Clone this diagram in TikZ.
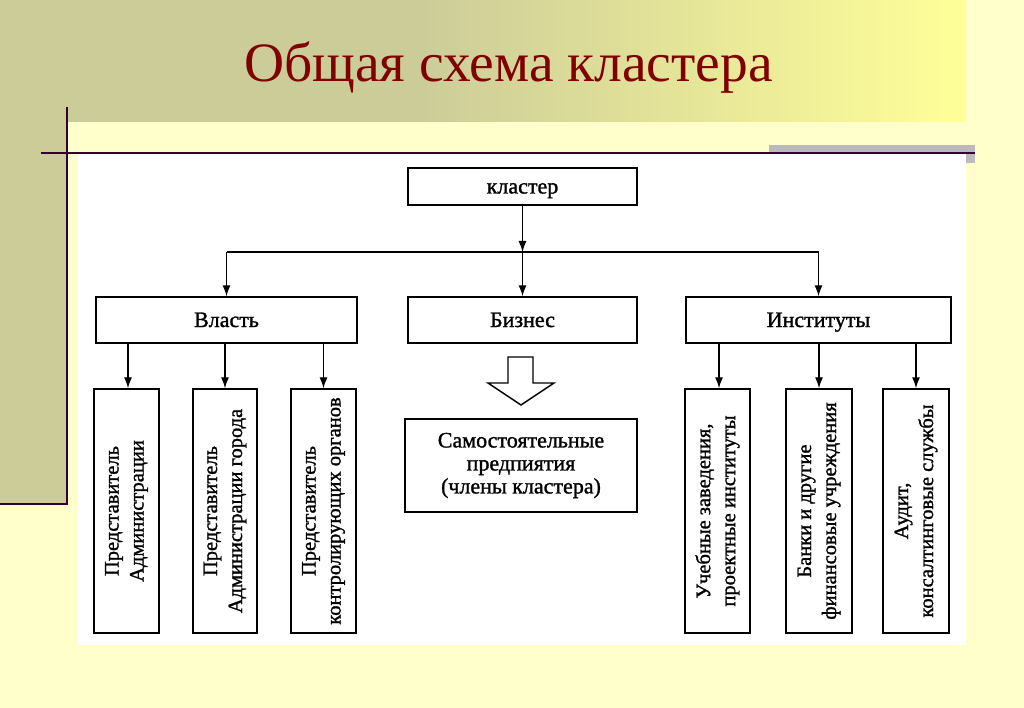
\documentclass[tikz,border=0pt]{standalone}
\usepackage{fontspec}
\setmainfont{Liberation Serif}
\newfontfamily\scanfont[FakeBold=1.3]{Liberation Serif}
\usetikzlibrary{arrows.meta}
\definecolor{bgyellow}{HTML}{FFFFCC}
\definecolor{khaki}{HTML}{CCCC99}
\definecolor{bandyellow}{HTML}{FFFF99}
\definecolor{linepurple}{HTML}{330033}
\definecolor{titlered}{HTML}{800000}
\definecolor{barGray}{HTML}{BBBBBB}
\tikzset{
  box/.style={draw=black, line width=1.4pt, fill=white, inner sep=2pt, align=center,
    font=\scanfont\fontsize{22}{23}\selectfont},
  onebox/.style={box, text height=15pt, text depth=1pt},
  vbox/.style={box, minimum width=244pt, rotate=90, font=\scanfont\fontsize{20.5}{25}\selectfont},
  arr/.style={line width=1.3pt, -{Latex[length=11pt,width=8pt]}},
  conn/.style={line width=1.3pt}
}
\begin{document}
\begin{tikzpicture}[x=1pt,y=-1pt]
\useasboundingbox (0,0) rectangle (1024,708);
% background
\fill[bgyellow] (0,0) rectangle (1024,708);
\fill[khaki] (0,0) rectangle (420,122);
\shade[left color=khaki, right color=bandyellow] (420,0) rectangle (966,122);
\fill[khaki] (0,122) rectangle (66,504);
% white diagram area
\fill[white] (78,154) rectangle (966,645);
% lines
\fill[barGray] (769,145) rectangle (975,152);
\fill[barGray] (966,152) rectangle (975,163);
\draw[linepurple, line width=2pt] (41,153) -- (975,153);
\draw[linepurple, line width=2pt] (67,107) -- (67,505);
\draw[linepurple, line width=2.5pt] (0,504) -- (67,504);
% title
\node[anchor=base, text=titlered, font=\fontsize{55.5}{60}\selectfont] (title) at (508.5,82) {Общая схема кластера};
% boxes
\node[onebox, minimum width=229pt, minimum height=37pt] (klaster) at (522.5,186.5) {кластер};
\node[onebox, minimum width=261pt, minimum height=46pt] (vlast) at (226.5,320) {Власть};
\node[onebox, minimum width=229pt, minimum height=46pt] (biznes) at (522.5,320) {Бизнес};
\node[onebox, minimum width=265pt, minimum height=46pt] (inst) at (818.5,320) {Институты};
\node[box, minimum width=232pt, minimum height=93pt] (samost) at (521,465.5) {Самостоятельные\\предпиятия\\(члены кластера)};
\node[vbox, minimum height=65pt] (a1) at (126.5,511) {Представитель\\Администрации};
\node[vbox, minimum height=64pt] (a2) at (225,511) {Представитель\\Администрации города};
\node[vbox, minimum height=65pt] (a3) at (323.5,511) {Представитель\\контролирующих органов};
\node[vbox, minimum height=65pt] (b1) at (717.5,511) {Учебные заведения,\\проектные институты};
\node[vbox, minimum height=66pt] (b2) at (819,511) {Банки и другие\\финансовые учреждения};
\node[vbox, minimum height=66pt] (b3) at (916,511) {Аудит,\\консалтинговые службы};
% connectors
\coordinate (jc) at (522.5,252);
\coordinate (jl) at (226.5,252);
\coordinate (jr) at (818.5,252);
\draw[arr] (klaster.south) -- (jc);
\draw[arr] (jc) -- (biznes.north);
\draw[conn] (jl) -- (jr);
\draw[arr] (jl) -- (vlast.north);
\draw[arr] (jr) -- (inst.north);
\draw[arr] (a1.east |- vlast.south) ++(1.5,0) -- ([xshift=1.5pt]a1.east);
\draw[arr] (a2.east |- vlast.south) -- (a2.east);
\draw[arr] (a3.east |- vlast.south) -- (a3.east);
\draw[arr] (b1.east |- inst.south) ++(1.5,0) -- ([xshift=1.5pt]b1.east);
\draw[arr] (b2.east |- inst.south) -- (b2.east);
\draw[arr] (b3.east |- inst.south) -- (b3.east);
% block arrow
\draw[line width=1.4pt, fill=white, line join=miter] (508,357) -- (533,357) -- (533,383) -- (554,383) -- (521,405) -- (488,383) -- (508,383) -- cycle;
\end{tikzpicture}
\end{document}
